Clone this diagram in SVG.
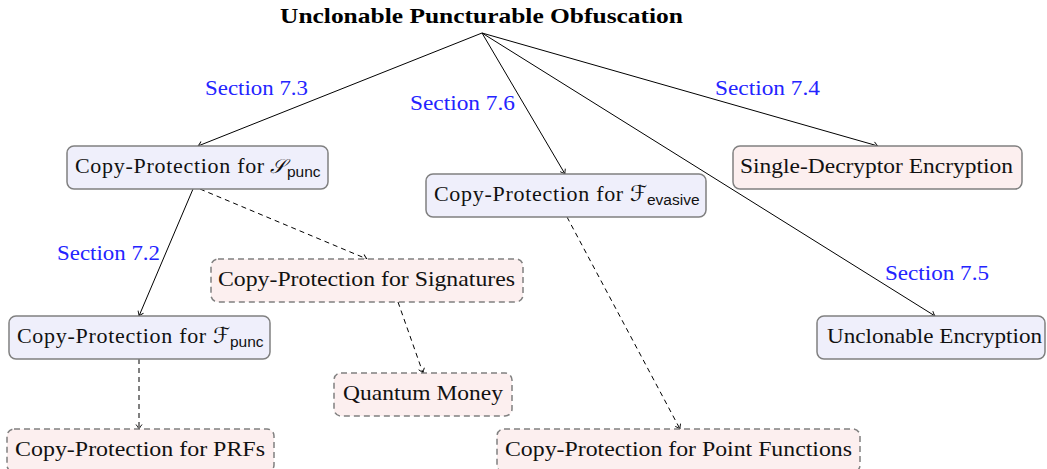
<svg xmlns="http://www.w3.org/2000/svg" width="1047" height="469" viewBox="0 0 1047 469">
<defs>
<marker id="arr" markerUnits="userSpaceOnUse" markerWidth="12" markerHeight="12" viewBox="-6 -6 12 12" refX="0" refY="0" orient="auto">
<path d="M-4.5,-3 Q-2,-1 0,0 Q-2,1 -4.5,3" fill="none" stroke="#000" stroke-width="0.9"/>
</marker>
<style>
.t{font-family:"Liberation Serif","DejaVu Serif",serif;font-size:22px;fill:#111}
.lead{letter-spacing:0.7px}
.title{font-family:"Liberation Serif",serif;font-size:21px;font-weight:bold;fill:#000}
.sec{font-family:"Liberation Serif",serif;font-size:21.5px;fill:#2424ff}
.scr{font-family:"DejaVu Serif","DejaVu Sans",serif;font-style:italic;font-size:20px}
.scf{font-family:"DejaVu Serif","DejaVu Sans",serif;font-size:22px}
.sub{font-family:"Liberation Sans",sans-serif;font-size:15.5px}
.nb{fill:#efeffb;stroke:#808080;stroke-width:1.5}
.np{fill:#fcefef;stroke:#808080;stroke-width:1.5}
.nd{fill:#fcefef;stroke:#808080;stroke-width:1.5;stroke-dasharray:6 4}
.e{fill:none;stroke:#000;stroke-width:1;marker-end:url(#arr)}
.ed{fill:none;stroke:#000;stroke-width:1;stroke-dasharray:5 4;marker-end:url(#arr)}
</style>
</defs>
<rect width="1047" height="469" fill="#fff"/>
<text class="title" x="481.5" y="23" text-anchor="middle" textLength="403" lengthAdjust="spacingAndGlyphs">Unclonable Puncturable Obfuscation</text>
<g id="edges">
<path class="e" d="M482,33 L198,146"/>
<path class="e" d="M482,33 L565,174"/>
<path class="e" d="M482,33 L878,146"/>
<path class="e" d="M482,33 L935,316"/>
<path class="e" d="M193,189 L139,316"/>
<path class="ed" d="M200,189 L367,259"/>
<path class="ed" d="M139,359 L139,429"/>
<path class="ed" d="M398,302 L423,373"/>
<path class="ed" d="M567,217 L680,429"/>
<text class="sec" x="256.5" y="95" text-anchor="middle" textLength="103" lengthAdjust="spacingAndGlyphs">Section 7.3</text>
<text class="sec" x="462.5" y="110" text-anchor="middle" textLength="105" lengthAdjust="spacingAndGlyphs">Section 7.6</text>
<text class="sec" x="767.5" y="95" text-anchor="middle" textLength="105" lengthAdjust="spacingAndGlyphs">Section 7.4</text>
<text class="sec" x="937" y="280" text-anchor="middle" textLength="104" lengthAdjust="spacingAndGlyphs">Section 7.5</text>
<text class="sec" x="108.5" y="260" text-anchor="middle" textLength="103" lengthAdjust="spacingAndGlyphs">Section 7.2</text>
</g>
<g id="n-spunc">
<rect class="nb" x="67" y="146" width="261" height="43" rx="7"/>
<text class="t" y="173"><tspan class="lead" x="75">Copy-Protection for</tspan><tspan x="270" class="scr">𝒮</tspan><tspan class="sub" x="287" dy="3.5">punc</tspan></text>
</g>
<g id="n-fpunc">
<rect class="nb" x="9" y="316" width="261" height="43" rx="7"/>
<text class="t" y="343"><tspan class="lead" x="17">Copy-Protection for</tspan><tspan x="213" class="scf">ℱ</tspan><tspan class="sub" x="230" dy="3.5">punc</tspan></text>
</g>
<g id="n-fevasive">
<rect class="nb" x="426" y="174" width="280" height="43" rx="7"/>
<text class="t" y="201"><tspan class="lead" x="434">Copy-Protection for</tspan><tspan x="630" class="scf">ℱ</tspan><tspan class="sub" x="647" dy="3.5">evasive</tspan></text>
</g>
<g id="n-sde">
<rect class="np" x="733" y="146" width="289" height="43" rx="7"/>
<text class="t" x="876.5" y="173" text-anchor="middle" textLength="273" lengthAdjust="spacingAndGlyphs">Single-Decryptor Encryption</text>
</g>
<g id="n-sig">
<rect class="nd" x="211" y="259" width="312" height="43" rx="7"/>
<text class="t" x="366.5" y="286" text-anchor="middle" textLength="297" lengthAdjust="spacingAndGlyphs">Copy-Protection for Signatures</text>
</g>
<g id="n-qm">
<rect class="nd" x="334" y="373" width="178" height="43" rx="7"/>
<text class="t" x="423" y="400" text-anchor="middle" textLength="160" lengthAdjust="spacingAndGlyphs">Quantum Money</text>
</g>
<g id="n-prf">
<rect class="nd" x="7" y="429" width="267" height="43" rx="7"/>
<text class="t" x="140" y="456" text-anchor="middle" textLength="250" lengthAdjust="spacingAndGlyphs">Copy-Protection for PRFs</text>
</g>
<g id="n-pf">
<rect class="nd" x="497" y="429" width="363" height="43" rx="7"/>
<text class="t" x="678.5" y="456" text-anchor="middle" textLength="347" lengthAdjust="spacingAndGlyphs">Copy-Protection for Point Functions</text>
</g>
<g id="n-ue">
<rect class="nb" x="817" y="316" width="228" height="43" rx="7"/>
<text class="t" x="934.5" y="343" text-anchor="middle" textLength="215" lengthAdjust="spacingAndGlyphs">Unclonable Encryption</text>
</g>
</svg>
